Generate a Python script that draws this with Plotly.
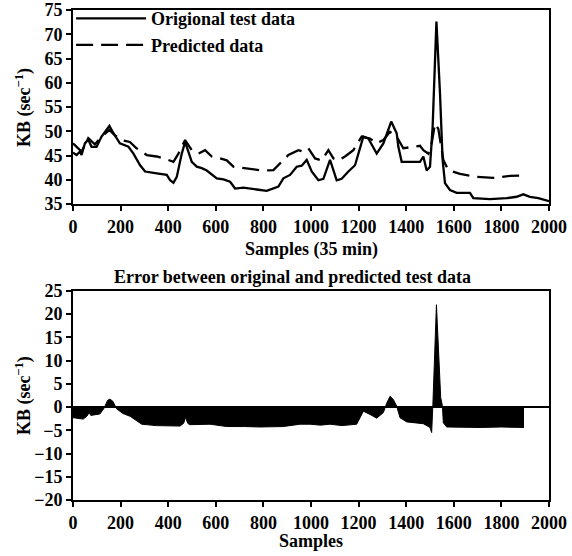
import plotly.graph_objects as go

# ---- data ----
orig_x = [0, 15, 29, 36, 50, 64, 78, 99, 120, 153, 170, 197, 233, 254, 282, 303, 352, 394, 408, 422,
          436, 457, 471, 485, 499, 520, 541, 562, 583, 604, 632, 660, 681, 716, 772, 814, 863, 884, 912,
          940, 961, 982, 1003, 1031, 1052, 1080, 1108, 1129, 1157, 1185, 1220, 1241, 1276, 1304, 1337,
          1360, 1367, 1381, 1458, 1472, 1486, 1500, 1511, 1527, 1542, 1553, 1563, 1584, 1612, 1668,
          1682, 1752, 1822, 1864, 1892, 1920, 1955, 1990, 2000]
orig_y = [45.6, 45.1, 45.8, 45.1, 47.5, 48.3, 46.8, 46.8, 48.9, 51.1, 49.6, 47.5, 46.8, 45.4, 43.0, 41.7,
          41.3, 41.0, 39.9, 39.4, 40.6, 45.4, 47.8, 45.8, 43.7, 42.7, 42.4, 41.9, 41.0, 40.3, 40.1, 39.6,
          38.2, 38.4, 38.0, 37.7, 38.6, 40.3, 41.0, 42.7, 42.9, 44.1, 41.7, 39.9, 40.2, 44.1, 39.9, 40.2,
          41.7, 43.0, 48.9, 48.5, 45.4, 47.5, 52.0, 49.6, 46.8, 43.7, 43.7, 44.8, 41.9, 42.7, 50.9, 72.6,
          57.8, 44.1, 39.3, 37.9, 37.3, 37.3, 36.2, 36.0, 36.2, 36.5, 37.0, 36.5, 36.2, 35.7, 35.6]

pred_x = [0, 15, 36, 64, 92, 120, 153, 175, 204, 239, 267, 310, 352, 400, 422, 443, 471, 499, 527, 555,
          583, 618, 646, 674, 730, 800, 842, 870, 905, 947, 968, 989, 1017, 1045, 1073, 1094, 1115, 1143,
          1178, 1213, 1248, 1276, 1304, 1332, 1360, 1388, 1458, 1472, 1493, 1507, 1521, 1535, 1556, 1577,
          1626, 1696, 1766, 1836, 1892]
pred_y = [47.5, 46.8, 45.8, 48.6, 47.3, 48.9, 50.3, 49.2, 48.2, 47.8, 46.5, 45.1, 44.8, 44.1, 43.7, 45.4,
          48.2, 46.1, 45.4, 46.1, 44.8, 44.4, 44.0, 42.7, 42.4, 41.9, 42.0, 43.4, 45.1, 46.1, 45.8, 46.5,
          44.4, 44.0, 46.1, 44.4, 44.0, 44.8, 46.1, 48.9, 48.5, 47.5, 48.2, 49.9, 48.9, 46.5, 47.0, 46.1,
          45.4, 47.5, 51.6, 50.5, 44.1, 42.0, 41.2, 40.6, 40.4, 40.8, 40.9]

err_x = [0, 20, 43, 60, 67, 75, 100, 113, 130, 145, 155, 168, 183, 210, 240, 265, 289, 350, 408, 450,
         465, 473, 482, 490, 576, 646, 720, 786, 884, 954, 996, 1040, 1080, 1130, 1192, 1210, 1220, 1248,
         1276, 1304, 1318, 1332, 1346, 1360, 1374, 1402, 1472, 1500, 1507, 1512, 1527, 1545, 1552, 1556,
         1570, 1710, 1800, 1895]
err_y = [-2.3, -2.5, -2.6, -1.9, -1.2, -1.8, -1.7, -1.5, -0.3, 1.4, 1.7, 1.2, -0.4, -1.4, -2.0, -2.8,
         -3.7, -4.0, -4.1, -4.1, -3.5, -2.2, -3.5, -3.8, -3.7, -4.2, -4.2, -4.3, -4.2, -3.7, -3.7, -3.9,
         -3.7, -4.0, -3.7, -2.0, -0.9, -1.6, -2.4, -1.2, 0.8, 2.3, 1.6, 0.2, -2.3, -3.2, -3.6, -4.4, -5.5,
         0.5, 22.0, 2.0, 0.3, -3.4, -4.3, -4.4, -4.3, -4.4]

x_ticks = [0, 200, 400, 600, 800, 1000, 1200, 1400, 1600, 1800, 2000]
top_y_ticks = [35, 40, 45, 50, 55, 60, 65, 70, 75]
bot_y_ticks = [-20, -15, -10, -5, 0, 5, 10, 15, 20, 25]

FONT = "Liberation Serif"
TXT = dict(family=FONT, size=18, color="black", weight="bold")

fig = go.Figure()
fig.add_trace(go.Scatter(x=orig_x, y=orig_y, mode="lines", name="Origional test data",
                         line=dict(color="black", width=2.3), xaxis="x", yaxis="y"))
fig.add_trace(go.Scatter(x=pred_x, y=pred_y, mode="lines", name="Predicted data",
                         line=dict(color="black", width=2.3, dash="17px,8px"), xaxis="x", yaxis="y"))
fig.add_trace(go.Scatter(x=err_x, y=err_y, mode="lines", fill="tozeroy", fillcolor="black",
                         line=dict(color="black", width=1), showlegend=False,
                         xaxis="x2", yaxis="y2"))

axis_common = dict(showline=True, linecolor="black", linewidth=2, mirror=True,
                   ticks="outside", ticklen=5, tickwidth=2, tickcolor="black",
                   showgrid=False, automargin=False, tickfont=TXT)

ylab = "KB (sec<sup>−1</sup>)"
annots = [
    dict(text="Error between original and predicted test data", x=0.462, y=0.455),
    dict(text="Samples (35 min)", x=0.50, y=0.512),
    dict(text="Samples", x=0.50, y=-0.083),
    dict(text=ylab, x=-0.103, y=0.802, textangle=-90),
    dict(text=ylab, x=-0.103, y=0.214, textangle=-90),
]
for a in annots:
    a.update(xref="paper", yref="paper", showarrow=False, xanchor="center", yanchor="middle",
             font=TXT)

fig.update_layout(
    width=572, height=556,
    margin=dict(l=73, r=23, t=10, b=56, autoexpand=False),
    paper_bgcolor="white", plot_bgcolor="white",
    font=dict(family=FONT, color="black"),
    xaxis=dict(domain=[0, 1], range=[0, 2000], tickvals=x_ticks, anchor="y", **axis_common),
    yaxis=dict(domain=[0.604, 1.0], range=[35, 75], tickvals=top_y_ticks, anchor="x",
               zeroline=False, **axis_common),
    xaxis2=dict(domain=[0, 1], range=[0, 2000], tickvals=x_ticks, anchor="y2", **axis_common),
    yaxis2=dict(domain=[0, 0.427], range=[-20, 25], tickvals=bot_y_ticks, anchor="x2",
                zeroline=True, zerolinecolor="black", zerolinewidth=2, **axis_common),
    legend=dict(x=-0.004, y=1.02, xanchor="left", yanchor="top", bgcolor="rgba(0,0,0,0)",
                font=TXT, itemwidth=70, tracegroupgap=0),
    annotations=annots,
    showlegend=True,
)

fig.write_html("out.html", config={"displayModeBar": False},
               post_script="document.body.style.margin='0';document.body.style.padding='0';")
